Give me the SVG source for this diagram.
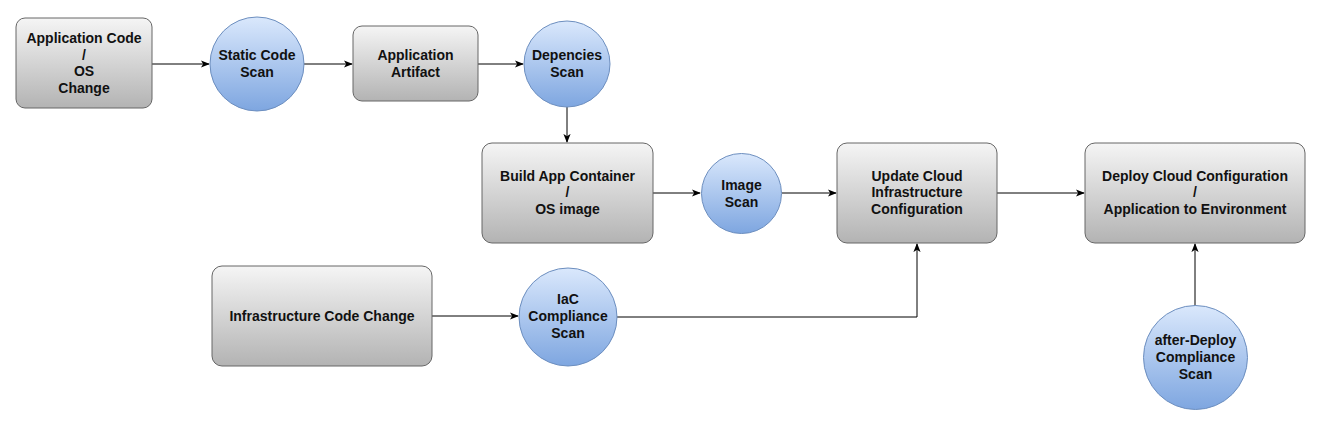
<svg xmlns="http://www.w3.org/2000/svg" width="1321" height="425" viewBox="0 0 1321 425">
<style>
.box{fill:url(#gGray);stroke:#666666;stroke-width:1}
.circ{fill:url(#gBlue);stroke:#6c8ebf;stroke-width:1}
.lbl{font-family:"Liberation Sans",Arial,sans-serif;font-size:14px;font-weight:bold;fill:#111;text-anchor:middle}
.edge{fill:none;stroke:#000;stroke-width:1;marker-end:url(#arr)}
</style>
<defs>
<linearGradient id="gGray" x1="0" y1="0" x2="0" y2="1"><stop offset="0" stop-color="#f5f5f5"/><stop offset="1" stop-color="#b3b3b3"/></linearGradient>
<linearGradient id="gBlue" x1="0" y1="0" x2="0" y2="1"><stop offset="0" stop-color="#dae8fc"/><stop offset="1" stop-color="#7ea6e0"/></linearGradient>
<marker id="arr" viewBox="0 0 10 10" refX="9" refY="5" markerWidth="9" markerHeight="9" markerUnits="userSpaceOnUse" orient="auto"><path d="M0,1 L10,5 L0,9 L2.5,5 Z" fill="#000"/></marker>
</defs>
<rect width="1321" height="425" fill="#ffffff"/>
<g id="connectors">
<path class="edge" d="M152,64 L209,64"/>
<path class="edge" d="M304,64 L352,64"/>
<path class="edge" d="M478,64 L523,64"/>
<path class="edge" d="M567,107 L567,142"/>
<path class="edge" d="M653,193 L700,193"/>
<path class="edge" d="M782,193 L836,193"/>
<path class="edge" d="M997,193 L1084,193"/>
<path class="edge" d="M432,316 L518,316"/>
<path class="edge" d="M617,317 L917,317 L917,244"/>
<path class="edge" d="M1195,306 L1195,244"/>
</g>
<g id="n-appcode"><rect class="box" x="16" y="18" width="136" height="90" rx="9"/><text class="lbl" x="84" y="43">Application Code</text><text class="lbl" x="84" y="59.5">/</text><text class="lbl" x="84" y="76">OS</text><text class="lbl" x="84" y="92.5">Change</text></g>
<g id="n-static"><circle class="circ" cx="257" cy="64" r="47"/><text class="lbl" x="257" y="60">Static Code</text><text class="lbl" x="257" y="77">Scan</text></g>
<g id="n-artifact"><rect class="box" x="353" y="26" width="125" height="75" rx="9"/><text class="lbl" x="415.5" y="60">Application</text><text class="lbl" x="415.5" y="77">Artifact</text></g>
<g id="n-deps"><circle class="circ" cx="567" cy="64" r="43"/><text class="lbl" x="567" y="60">Depencies</text><text class="lbl" x="567" y="77">Scan</text></g>
<g id="n-build"><rect class="box" x="482" y="143" width="171" height="100" rx="10"/><text class="lbl" x="567.5" y="180.5">Build App Container</text><text class="lbl" x="567.5" y="197">/</text><text class="lbl" x="567.5" y="214">OS image</text></g>
<g id="n-image"><circle class="circ" cx="741.5" cy="193.5" r="40"/><text class="lbl" x="741.5" y="189.5">Image</text><text class="lbl" x="741.5" y="206.5">Scan</text></g>
<g id="n-update"><rect class="box" x="837" y="143" width="160" height="100" rx="10"/><text class="lbl" x="917" y="180.5">Update Cloud</text><text class="lbl" x="917" y="197">Infrastructure</text><text class="lbl" x="917" y="214">Configuration</text></g>
<g id="n-deploy"><rect class="box" x="1085" y="143" width="220" height="100" rx="10"/><text class="lbl" x="1195" y="180.5">Deploy Cloud Configuration</text><text class="lbl" x="1195" y="197">/</text><text class="lbl" x="1195" y="214">Application to Environment</text></g>
<g id="n-infra"><rect class="box" x="212" y="266" width="220" height="100" rx="10"/><text class="lbl" x="322" y="321">Infrastructure Code Change</text></g>
<g id="n-iac"><circle class="circ" cx="568" cy="317" r="49"/><text class="lbl" x="568" y="304">IaC</text><text class="lbl" x="568" y="321">Compliance</text><text class="lbl" x="568" y="338">Scan</text></g>
<g id="n-after"><circle class="circ" cx="1195.5" cy="357.5" r="52"/><text class="lbl" x="1195.5" y="344.5">after-Deploy</text><text class="lbl" x="1195.5" y="361.5">Compliance</text><text class="lbl" x="1195.5" y="378.5">Scan</text></g>
</svg>
